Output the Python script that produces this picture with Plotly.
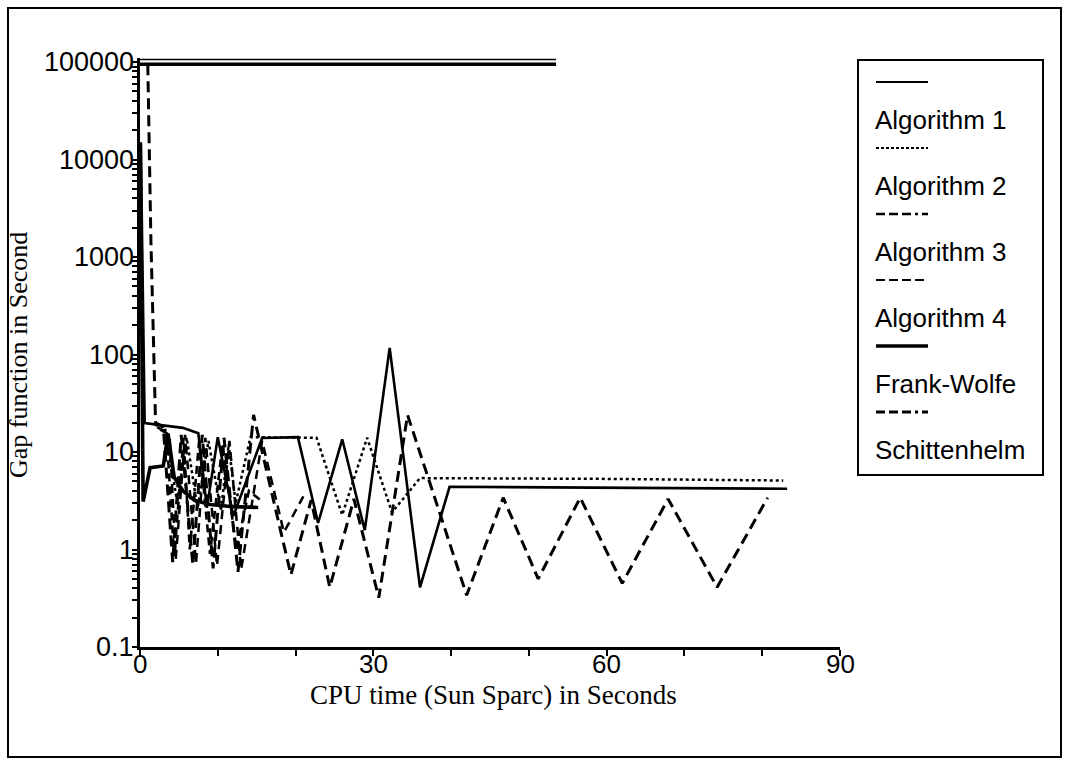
import plotly.graph_objects as go
import math

# ---------------- data ----------------
alg1_t = [0.1, 0.6, 5.5, 7.5, 8.6, 10.0, 12.0, 15.7, 20.3, 22.9, 26.0, 28.9, 32.1, 36.0, 39.8, 60.0, 83.2]
alg1_v = [14000, 19.8, 17.7, 15.6, 2.67, 14.2, 2.2, 13.9, 14.2, 1.87, 13.5, 1.58, 117, 0.41, 4.4, 4.3, 4.2]

alg2_t = [1.9, 3.2, 4.8, 6.0, 7.4, 8.8, 10.4, 11.4, 12.3, 14.2, 22.7, 26.0, 29.2, 32.4, 36.0, 60.0, 82.7]
alg2_v = [19, 18, 3.0, 14, 2.6, 13, 2.5, 12, 3.0, 14.2, 14.0, 2.26, 14.0, 2.4, 5.4, 5.3, 5.1]

alg3_t = [2.2, 3.4, 4.4, 5.6, 6.4, 7.6, 9.0, 10.6, 12.4, 14.0, 15.5]
alg3_v = [18, 16, 0.85, 14, 1.0, 13, 0.9, 12, 1.0, 4.0, 3.2]

alg4_t = [2.6, 3.8, 4.6, 5.8, 7.2, 8.4, 9.9, 11.5, 13.0, 15.7, 18.5, 21.0]
alg4_v = [17, 15, 0.8, 15, 0.72, 14, 0.68, 13, 0.62, 13, 1.5, 3.5]

fw_t = [0.05, 0.4, 1.3, 3.0, 3.6, 4.4, 5.5, 7.0, 9.0, 12.0, 15.2]
fw_v = [15000, 3.1, 6.9, 7.2, 15.5, 5.5, 4.0, 3.2, 2.9, 2.75, 2.7]

sch_t = [1.0, 1.4, 2.0, 3.0, 4.2, 5.3, 6.8, 8.0, 9.4, 10.8, 12.6, 14.6, 19.4, 22.0, 24.4,
         27.5, 30.7, 34.4, 42.0, 46.7, 51.2, 56.6, 62.0, 67.9, 74.2, 80.7]
sch_v = [95000, 1500, 20, 18, 0.74, 15, 0.69, 15, 0.64, 14, 0.59, 24, 0.55, 3.2, 0.41,
         3.3, 0.32, 24, 0.34, 3.4, 0.5, 3.4, 0.45, 3.3, 0.41, 3.4]

top_t = [0.0, 53.5]
top_v = [95000, 95000]
top2_v = [106000, 106000]

legend_names = ["Algorithm 1", "Algorithm 2", "Algorithm 3", "Algorithm 4", "Frank-Wolfe", "Schittenhelm"]

y_tickvals = [0.1, 1, 10, 100, 1000, 10000, 100000]
y_ticktext = ["0.1", "1", "10", "100", "1000", "10000", "100000"]
x_tickvals = [0, 30, 60, 90]
x_ticktext = ["0", "30", "60", "90"]
x_minor = [10, 20, 40, 50, 70, 80]
y_minor = [m * 10 ** e for e in range(-1, 5) for m in range(2, 10)]

# ---------------- styles ----------------
line_styles = [
    dict(width=2.6, dash="solid"),
    dict(width=2.5, dash="3px,3px"),
    dict(width=2.6, dash="8px,5px"),
    dict(width=2.5, dash="9px,6px"),
    dict(width=3.6, dash="solid"),
    dict(width=3.0, dash="11px,6px"),
]
legend_styles = [
    dict(width=2.2, dash="solid"),
    dict(width=1.8, dash="3px,2px"),
    dict(width=2.4, dash="9px,4px,9px,4px,9px,4px,3px,4px"),
    dict(width=2.2, dash="9px,4px"),
    dict(width=3.6, dash="solid"),
    dict(width=3.0, dash="9px,4px,9px,4px,9px,4px,3px,4px"),
]
series = [(alg1_t, alg1_v), (alg2_t, alg2_v), (alg3_t, alg3_v), (alg4_t, alg4_v), (fw_t, fw_v), (sch_t, sch_v)]

W, H = 1068, 764
L, R, T, B = 140, 228, 58, 117
PW, PH = W - L - R, H - T - B
TICK_FONT = dict(family="Liberation Sans, Arial", size=26, color="black")

fig = go.Figure()
for (t, v), name, st in zip(series, legend_names, line_styles):
    fig.add_trace(go.Scatter(x=t, y=v, mode="lines", name=name, showlegend=False,
                             line=dict(color="black", width=st["width"], dash=st["dash"])))
fig.add_trace(go.Scatter(x=top_t, y=top_v, mode="lines", showlegend=False,
                         line=dict(color="black", width=3.6)))
fig.add_trace(go.Scatter(x=top_t, y=top2_v, mode="lines", showlegend=False,
                         line=dict(color="black", width=1.6)))

def px(xp):
    return (xp - L) / PW

def py(yp):
    return (H - B - yp) / PH

shapes = []
annotations = []
# tick labels placed like the reference (close to the axes)
for v, s in zip(x_tickvals, x_ticktext):
    annotations.append(dict(text=s, xref="x", yref="paper", x=v, y=py(664), xanchor="center",
                            yanchor="middle", showarrow=False, font=TICK_FONT))
for v, s in zip(y_tickvals, y_ticktext):
    annotations.append(dict(text=s, xref="paper", yref="y", x=px(136), y=math.log10(v), xanchor="right",
                            yanchor="middle", showarrow=False,
                            font=dict(family="Liberation Sans, Arial", size=27, color="black")))
# manual legend box
shapes.append(dict(type="rect", xref="paper", yref="paper", x0=px(858), x1=px(1043), y0=py(60), y1=py(475),
                   line=dict(color="black", width=2), fillcolor="white", layer="above"))
for i, (name, st) in enumerate(zip(legend_names, legend_styles)):
    ly = 82 + i * 66
    shapes.append(dict(type="line", xref="paper", yref="paper", x0=px(876), x1=px(928), y0=py(ly), y1=py(ly),
                       line=dict(color="black", width=st["width"], dash=st["dash"])))
    annotations.append(dict(text=name, xref="paper", yref="paper", x=px(873), y=py(ly + 38),
                            xanchor="left", yanchor="middle", showarrow=False,
                            font=dict(family="Liberation Sans, Arial", size=26, color="black")))
# outer frame
shapes.append(dict(type="rect", xref="paper", yref="paper", x0=px(8), x1=px(1061), y0=py(757), y1=py(8),
                   line=dict(color="black", width=2)))
# axis titles
annotations.append(dict(text="CPU time (Sun Sparc) in Seconds", xref="paper", yref="paper",
                        x=px(494), y=py(695), xanchor="center", yanchor="middle", showarrow=False,
                        font=dict(family="Liberation Serif, Times New Roman", size=27, color="black")))
annotations.append(dict(text="Gap function in Second", xref="paper", yref="paper",
                        x=px(18), y=py(355), xanchor="center", yanchor="middle", showarrow=False,
                        textangle=-90,
                        font=dict(family="Liberation Serif, Times New Roman", size=26, color="black")))

fig.update_layout(
    width=W, height=H,
    margin=dict(l=L, r=R, t=T, b=B),
    paper_bgcolor="white", plot_bgcolor="white",
    showlegend=False,
    shapes=shapes, annotations=annotations,
    xaxis=dict(range=[0, 90], tickvals=x_tickvals, showticklabels=False, ticks="outside", ticklen=6,
               tickwidth=2, tickcolor="black", showline=True, linewidth=2.5, linecolor="black",
               showgrid=False, zeroline=False,
               minor=dict(tickvals=x_minor, ticks="outside", ticklen=6, tickwidth=2, tickcolor="black",
                          showgrid=False)),
    yaxis=dict(type="log", range=[-1, math.log10(110000)], tickvals=y_tickvals, showticklabels=False,
               ticks="outside", ticklen=5, tickwidth=2, tickcolor="black", showline=True, linewidth=2.5,
               linecolor="black", showgrid=False, zeroline=False,
               minor=dict(tickvals=y_minor, ticks="outside", ticklen=5, tickwidth=1.5, tickcolor="black",
                          showgrid=False)),
)

fig.write_html("out.html")
